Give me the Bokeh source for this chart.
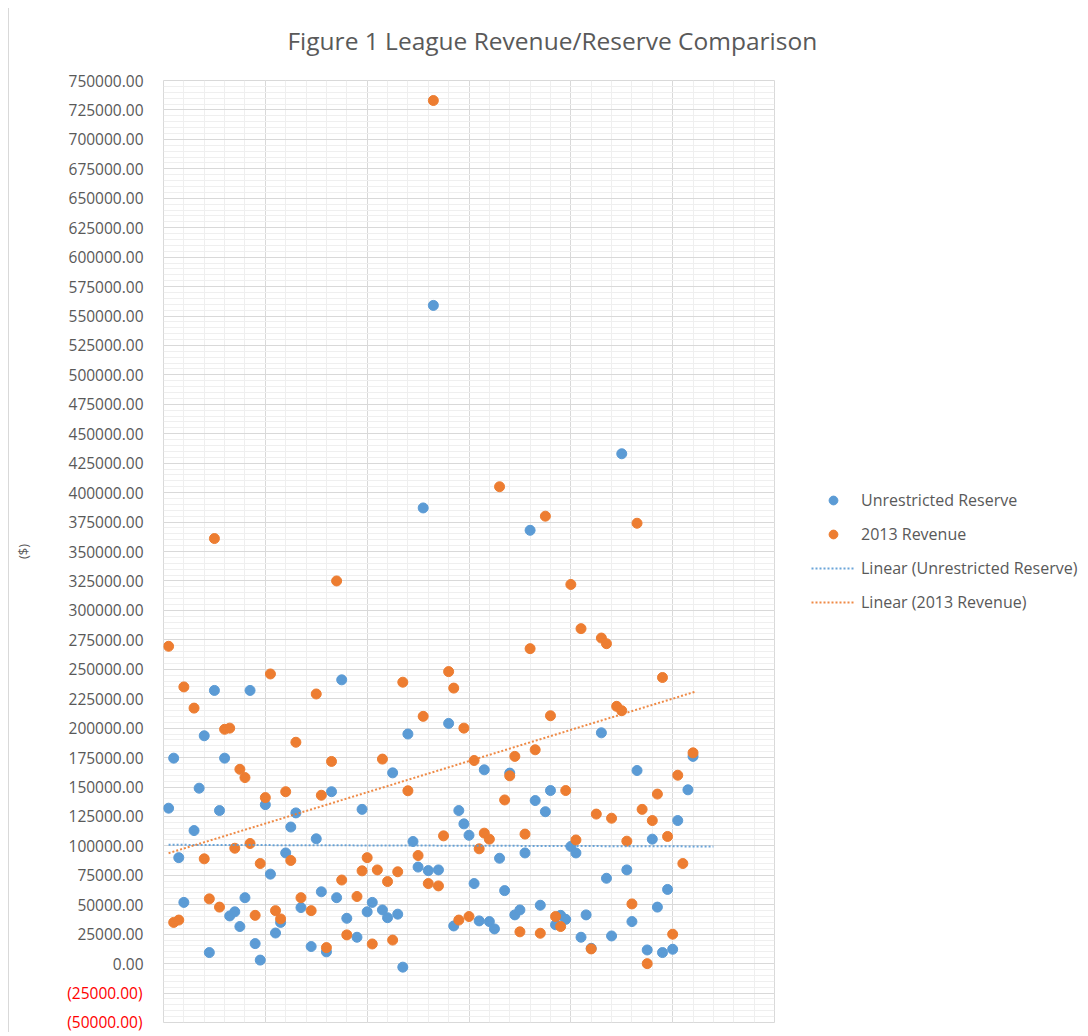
from bokeh.plotting import figure
from bokeh.layouts import row, column
from bokeh.models import (SingleIntervalTicker, FixedTicker, NumeralTickFormatter,
                          Legend, LegendItem, LinearAxis, Range1d, Label)
from bokeh.embed import file_html
from bokeh.resources import INLINE

nan = float("nan")

title_text = "Figure 1 League Revenue/Reserve  Comparison"
y_label = "($)"
name_reserve = "Unrestricted Reserve"
name_revenue = "2013 Revenue"
name_reserve_trend = "Linear (Unrestricted Reserve)"
name_revenue_trend = "Linear (2013 Revenue)"

# values per league (row 1..104)
reserve = [132000, 174500, 90000, 52000, nan, 113000, 149000, 193500, 9400, 232000,
           130000, 174500, 40500, 44000, 31500, 56000, 232000, 17000, 3000, 135000,
           76000, 26000, 35000, 94000, 116000, 128000, 47600, nan, 14500, 106000,
           61000, 10000, 146000, 56000, 241000, 38500, nan, 22400, 131000, 44000,
           52000, nan, 45600, 39000, 162000, 42000, -3000, 195000, 103700, 82000,
           387000, 79000, 559000, 79600, nan, 204000, 32000, 130000, 118700, 109000,
           68000, 36300, 164600, 35700, 29500, 89500, 62000, 161800, 41400, 45600,
           94000, 368000, 138500, 49600, 129000, 147000, 33000, 41000, 37600, 99500,
           94000, 22400, 41400, 13000, nan, 196000, 72500, 23500, nan, 433000,
           79600, 35700, 164000, nan, 11600, 105700, 48000, 9400, 63000, 12200,
           121500, nan, 147600, 176000]

revenue = [269500, 35000, 37000, 235000, nan, 217000, nan, 89000, 55000, 361000,
           48000, 199000, 200000, 98000, 165000, 158000, 102000, 41000, 85000, 141000,
           246000, 45000, 38000, 146000, 87600, 188000, 56000, nan, 45000, 229000,
           143000, 13600, 171700, 325000, 71000, 24400, nan, 57000, 78800, 90000,
           16700, 79600, 173700, 69700, 20000, 78000, 239000, 146800, nan, 91800,
           210000, 68000, 733000, 66000, 108500, 248000, 234000, 37000, 200000, 40000,
           172500, 97500, 110800, 105700, nan, 405000, 139000, 159500, 176000, 27000,
           110000, 267500, 181600, 25800, 380000, 210500, 40000, 31500, 147000, 322000,
           105000, 284500, nan, 12500, 127000, 276500, 271700, 123500, 218500, 214800,
           104000, 50700, 374000, 131000, 0, 121500, 144000, 243000, 108000, 25000,
           160000, 85000, nan, 179000]

rows = list(range(1, len(reserve) + 1))

# linear trend lines as drawn in the picture (start / end)
reserve_trend_x = [1, 108]
reserve_trend = [100900, 99500]
revenue_trend_x = [1, 104.5]
revenue_trend = [93800, 231000]

negative_ticks = [-50000, -25000]

FONT = "Open Sans"
GREY = "#595959"
BLUE = "#5B9BD5"
ORANGE = "#ED7D31"
TICK_FS = "15.5px"
TICK_LABEL_W = 79   # measured width of "750000.00" at TICK_FS
TICK_STANDOFF = 16

# ---- title strip -------------------------------------------------------
t = figure(width=1072, height=62, output_backend="svg", toolbar_location=None,
           x_range=Range1d(0, 1072), y_range=Range1d(0, 62),
           x_axis_type=None, y_axis_type=None, min_border=0)
t.outline_line_color = None
t.add_layout(Label(x=546, y=30, text=title_text, text_align="center",
                   text_baseline="middle", text_font=FONT,
                   text_font_size="24.5px", text_color=GREY))

# ---- main plot ----------------------------------------------------------
p = figure(width=772, height=962, output_backend="svg", toolbar_location=None,
           x_range=Range1d(0, 120), y_range=Range1d(-50000, 750000),
           min_border_left=154, min_border_right=7, min_border_top=10,
           min_border_bottom=10)
p.background_fill_color = "white"
p.border_fill_color = "white"
p.outline_line_color = "#d9d9d9"

p.xaxis.visible = False
xt = SingleIntervalTicker(interval=20, num_minor_ticks=5)
p.xgrid.ticker = xt
p.xgrid.grid_line_color = "#d9d9d9"
p.xgrid.minor_grid_line_color = "#efefef"

yt = SingleIntervalTicker(interval=25000, num_minor_ticks=5)
p.ygrid.ticker = yt
p.ygrid.grid_line_color = "#d9d9d9"
p.ygrid.minor_grid_line_color = "#efefef"

gray_axis = p.yaxis[0]
gray_axis.ticker = yt
gray_axis.formatter = NumeralTickFormatter(format="0.00")
gray_axis.major_label_overrides = {v: "" for v in negative_ticks}
gray_axis.axis_line_color = None
gray_axis.major_tick_line_color = None
gray_axis.minor_tick_line_color = None
gray_axis.major_tick_out = 0
gray_axis.major_tick_in = 0
gray_axis.major_label_standoff = TICK_STANDOFF
gray_axis.major_label_text_font = FONT
gray_axis.major_label_text_font_size = TICK_FS
gray_axis.major_label_text_color = GREY

# negative tick labels in red: an outer axis whose labels line up with the inner one
neg_axis = LinearAxis(ticker=FixedTicker(ticks=negative_ticks),
                      formatter=NumeralTickFormatter(format="(0.00)"),
                      axis_line_color=None, major_tick_line_color=None,
                      minor_tick_line_color=None, major_tick_out=0, major_tick_in=0,
                      major_label_standoff=-TICK_LABEL_W + 2,
                      major_label_text_font=FONT,
                      major_label_text_font_size=TICK_FS,
                      major_label_text_color="#FF0000",
                      axis_label=y_label, axis_label_text_font=FONT,
                      axis_label_text_font_size="13px",
                      axis_label_text_font_style="normal",
                      axis_label_text_color=GREY, axis_label_standoff=32)
p.add_layout(neg_axis, "left")

r_res = p.scatter(x=rows, y=reserve, size=10, fill_color=BLUE, line_color=BLUE)
r_rev = p.scatter(x=rows, y=revenue, size=10, fill_color=ORANGE, line_color=ORANGE)

l_res = p.line(reserve_trend_x, reserve_trend, line_color=BLUE, line_width=2,
               line_dash="2 2", line_alpha=0.9)
l_rev = p.line(revenue_trend_x, revenue_trend, line_color=ORANGE, line_width=2,
               line_dash="2 2", line_alpha=0.9)

# ---- legend panel to the right of the plot area --------------------------
q = figure(width=300, height=962, output_backend="svg", toolbar_location=None,
           x_range=Range1d(0, 1), y_range=Range1d(0, 1),
           x_axis_type=None, y_axis_type=None, min_border=0)
q.outline_line_color = None
q.background_fill_color = "white"
q.border_fill_color = "white"
# legend keys: same styles as the plotted series, placed outside the visible range
k_res = q.scatter(x=[-5], y=[-5], size=10, fill_color=BLUE, line_color=BLUE)
k_rev = q.scatter(x=[-5], y=[-5], size=10, fill_color=ORANGE, line_color=ORANGE)
k_lres = q.line(x=[-5, -4], y=[-5, -5], line_color=BLUE, line_width=2,
                line_dash="2 2", line_alpha=0.9)
k_lrev = q.line(x=[-5, -4], y=[-5, -5], line_color=ORANGE, line_width=2,
                line_dash="2 2", line_alpha=0.9)

legend = Legend(items=[LegendItem(label=name_reserve, renderers=[k_res]),
                       LegendItem(label=name_revenue, renderers=[k_rev]),
                       LegendItem(label=name_reserve_trend, renderers=[k_lres]),
                       LegendItem(label=name_revenue_trend, renderers=[k_lrev])],
                location=(30, 409), orientation="vertical",
                glyph_width=44, glyph_height=22, label_height=22, spacing=12,
                padding=0, margin=0, border_line_color=None,
                background_fill_alpha=0, label_standoff=6,
                label_text_font=FONT, label_text_font_size="16px",
                label_text_color=GREY)
q.add_layout(legend)

page = column(t, row(p, q, spacing=0), spacing=0)
page.styles = {"margin-left": "8px", "margin-top": "8px",
               "border-left": "1px solid #d9d9d9"}

open("out.html", "w").write(file_html(page, INLINE))
